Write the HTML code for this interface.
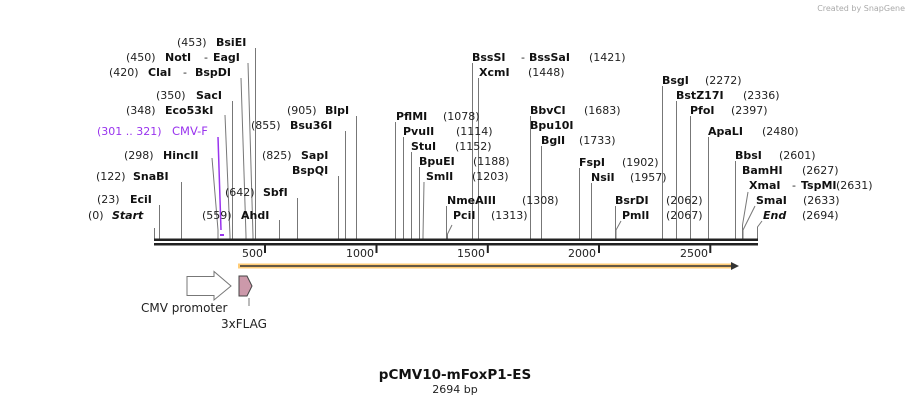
<!DOCTYPE html>
<html><head><meta charset="utf-8"><style>
html,body{margin:0;padding:0;background:#fff;}
svg{display:block;font-family:"DejaVu Sans","Liberation Sans",sans-serif;}
.n{font-size:11px;fill:#222;}
.b{font-size:11px;font-weight:bold;fill:#111;}
.l{stroke:#777;stroke-width:1;fill:none;}
</style></head><body>
<svg width="912" height="405" viewBox="0 0 912 405">
<text x="905" y="11" text-anchor="end" style="font-size:8px;fill:#aaa">Created by SnapGene</text>
<g class="l">
<path d="M154.5 228V240"/>
<path d="M159.5 205V240"/>
<path d="M181.5 182V240"/>
<path d="M212 158L218 230V240"/>
<path d="M225 115L230 236V240"/>
<path d="M232.5 101V240"/>
<path d="M241 78L246 236V240"/>
<path d="M248 63L253 236V240"/>
<path d="M255.5 48V240"/>
<path d="M279.5 220V240"/>
<path d="M297.5 198V240"/>
<path d="M338.5 176V240"/>
<path d="M345.5 131V240"/>
<path d="M356.5 116V240"/>
<path d="M395.5 122V240"/>
<path d="M403.5 137V240"/>
<path d="M411.5 152V240"/>
<path d="M419.5 167V240"/>
<path d="M424 182L423 236V240"/>
<path d="M446.5 206V240"/>
<path d="M452 225L447.5 234V240"/>
<path d="M472.5 63V240"/>
<path d="M478.5 78V240"/>
<path d="M530.5 116V240"/>
<path d="M541.5 146V240"/>
<path d="M579.5 168V240"/>
<path d="M591.5 183V240"/>
<path d="M615.5 206V240"/>
<path d="M621 221L616 230V240"/>
<path d="M662.5 86V240"/>
<path d="M676.5 101V240"/>
<path d="M690.5 116V240"/>
<path d="M708.5 137V240"/>
<path d="M735.5 161V240"/>
<path d="M748 192L742.5 225V240"/>
<path d="M755 206L743 230V240"/>
<path d="M762 221L757.5 227V240"/>
</g>
<path d="M218 137L221 230" stroke="#9933ee" stroke-width="1.5"/>
<rect x="220" y="234" width="4" height="2" fill="#9933ee"/>
<rect x="154" y="238.5" width="604" height="2.5" fill="#222"/>
<rect x="154" y="243" width="604" height="2.5" fill="#222"/>
<g stroke="#222" stroke-width="2">
<path d="M265 245V253M376.5 245V253M487.8 245V253M599 245V253M710.3 245V253"/>
</g>
<g class="n">
<text x="242" y="257">500</text><text x="346" y="257">1000</text><text x="457" y="257">1500</text><text x="568" y="257">2000</text><text x="680" y="257">2500</text>
</g>
<rect x="238" y="263.5" width="496" height="5" fill="#ffcc77"/>
<path d="M240 266H734" stroke="#333" stroke-width="1.5"/>
<path d="M731 262L739 266L731 270Z" fill="#333"/>
<path d="M187 276.5H214V271.5L231 286L214 300V295.5H187Z" fill="#fff" stroke="#777"/>
<path d="M239 276H247L252 286L247 296H239Z" fill="#cc99aa" stroke="#444"/>
<path d="M249 298V306" stroke="#777"/>
<text class="n" x="141" y="312" style="font-size:12px">CMV promoter</text>
<text class="n" x="221" y="328" style="font-size:12px">3xFLAG</text>
<g>
<text class="n" x="88" y="219">(0)</text><text class="b" x="112" y="219" font-style="italic">Start</text>
<text class="n" x="97" y="203">(23)</text><text class="b" x="130" y="203">EciI</text>
<text class="n" x="96" y="180">(122)</text><text class="b" x="133" y="180">SnaBI</text>
<text class="n" x="124" y="159">(298)</text><text class="b" x="163" y="159">HincII</text>
<text class="n" x="97" y="135" style="fill:#9933ee">(301 .. 321)</text><text x="172" y="135" style="font-size:11.5px;fill:#9933ee">CMV-F</text>
<text class="n" x="126" y="114">(348)</text><text class="b" x="165" y="114">Eco53kI</text>
<text class="n" x="156" y="99">(350)</text><text class="b" x="196" y="99">SacI</text>
<text class="n" x="109" y="76">(420)</text><text class="b" x="148" y="76">ClaI</text><text class="n" x="183" y="76">-</text><text class="b" x="195" y="76">BspDI</text>
<text class="n" x="126" y="61">(450)</text><text class="b" x="165" y="61">NotI</text><text class="n" x="204" y="61">-</text><text class="b" x="213" y="61">EagI</text>
<text class="n" x="177" y="46">(453)</text><text class="b" x="216" y="46">BsiEI</text>
<text class="n" x="202" y="219">(559)</text><text class="b" x="241" y="219">AhdI</text>
<text class="n" x="225" y="196">(642)</text><text class="b" x="263" y="196">SbfI</text>
<text class="n" x="262" y="159">(825)</text><text class="b" x="301" y="159">SapI</text>
<text class="b" x="292" y="174">BspQI</text>
<text class="n" x="251" y="129">(855)</text><text class="b" x="290" y="129">Bsu36I</text>
<text class="n" x="287" y="114">(905)</text><text class="b" x="325" y="114">BlpI</text>
</g>
<g>
<text class="b" x="396" y="120">PflMI</text><text class="n" x="443" y="120">(1078)</text>
<text class="b" x="403" y="135">PvuII</text><text class="n" x="456" y="135">(1114)</text>
<text class="b" x="411" y="150">StuI</text><text class="n" x="455" y="150">(1152)</text>
<text class="b" x="419" y="165">BpuEI</text><text class="n" x="473" y="165">(1188)</text>
<text class="b" x="426" y="180">SmlI</text><text class="n" x="472" y="180">(1203)</text>
<text class="b" x="447" y="204">NmeAIII</text><text class="n" x="522" y="204">(1308)</text>
<text class="b" x="453" y="219">PciI</text><text class="n" x="491" y="219">(1313)</text>
<text class="b" x="472" y="61">BssSI</text><text class="n" x="521" y="61">-</text><text class="b" x="529" y="61">BssSaI</text><text class="n" x="589" y="61">(1421)</text>
<text class="b" x="479" y="76">XcmI</text><text class="n" x="528" y="76">(1448)</text>
<text class="b" x="530" y="114">BbvCI</text><text class="n" x="584" y="114">(1683)</text>
<text class="b" x="530" y="129">Bpu10I</text>
<text class="b" x="541" y="144">BglI</text><text class="n" x="579" y="144">(1733)</text>
<text class="b" x="579" y="166">FspI</text><text class="n" x="622" y="166">(1902)</text>
<text class="b" x="591" y="181">NsiI</text><text class="n" x="630" y="181">(1957)</text>
<text class="b" x="615" y="204">BsrDI</text><text class="n" x="666" y="204">(2062)</text>
<text class="b" x="622" y="219">PmlI</text><text class="n" x="666" y="219">(2067)</text>
<text class="b" x="662" y="84">BsgI</text><text class="n" x="705" y="84">(2272)</text>
<text class="b" x="676" y="99">BstZ17I</text><text class="n" x="743" y="99">(2336)</text>
<text class="b" x="690" y="114">PfoI</text><text class="n" x="731" y="114">(2397)</text>
<text class="b" x="708" y="135">ApaLI</text><text class="n" x="762" y="135">(2480)</text>
<text class="b" x="735" y="159">BbsI</text><text class="n" x="779" y="159">(2601)</text>
<text class="b" x="742" y="174">BamHI</text><text class="n" x="802" y="174">(2627)</text>
<text class="b" x="749" y="189">XmaI</text><text class="n" x="792" y="189">-</text><text class="b" x="801" y="189">TspMI</text><text class="n" x="836" y="189">(2631)</text>
<text class="b" x="756" y="204">SmaI</text><text class="n" x="803" y="204">(2633)</text>
<text class="b" x="763" y="219" font-style="italic">End</text><text class="n" x="802" y="219">(2694)</text>
</g>
<text x="455" y="379" text-anchor="middle" style="font-size:13.5px;font-weight:bold;fill:#111">pCMV10-mFoxP1-ES</text>
<text x="455" y="393" text-anchor="middle" style="font-size:11px;fill:#222">2694 bp</text>
</svg>
</body></html>
